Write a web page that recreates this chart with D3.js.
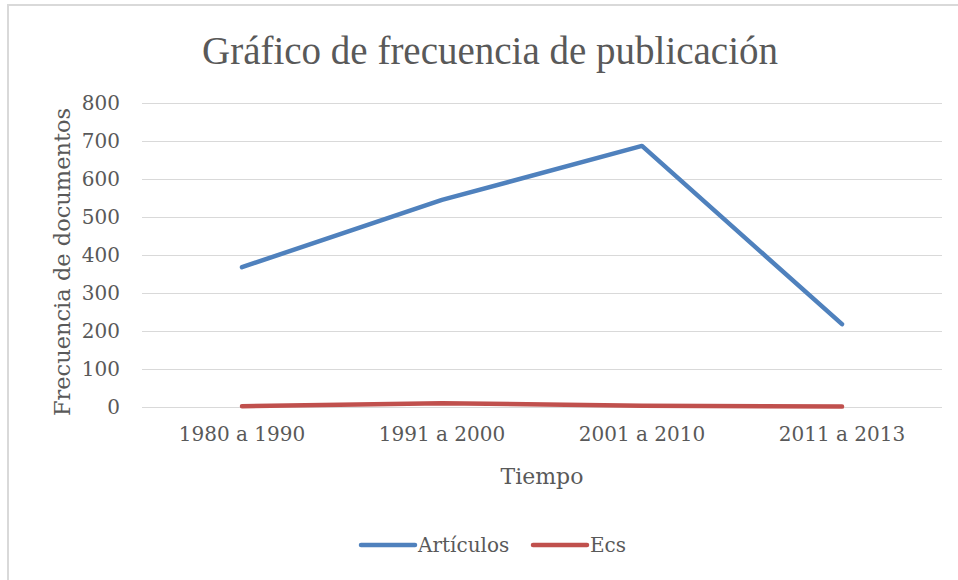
<!DOCTYPE html>
<meta charset="utf-8">
<style>
body { margin: 0; background: #fff; }
text { font-family: "DejaVu Serif", "Liberation Serif", serif; fill: #595959; }
.title { font-family: "Liberation Serif", serif; }
.grid line { stroke: #d9d9d9; stroke-width: 1.3; shape-rendering: crispEdges; }
.grid path { display: none; }
.axis path, .axis line { display: none; }
</style>
<body>
<script src="https://d3js.org/d3.v7.min.js"></script>
<script>

var categories = ["1980 a 1990", "1991 a 2000", "2001 a 2010", "2011 a 2013"];
var articulos = [368, 545, 687, 218];
var ecs = [2, 10, 3, 1];
var seriesNames = ["Artículos", "Ecs"];
var yTicks = [0, 100, 200, 300, 400, 500, 600, 700, 800];

var W = 958, H = 580;
var margin = {top: 103, right: 16, bottom: 173, left: 142},
    width = W - margin.left - margin.right,
    height = H - margin.top - margin.bottom;

var color = d3.scaleOrdinal().domain(seriesNames).range(["#4f81bd", "#c0504d"]);

var series = [
  {name: seriesNames[0], values: articulos},
  {name: seriesNames[1], values: ecs}
];

var svg = d3.select("body").append("svg")
    .attr("width", W)
    .attr("height", H);

// outer chart border (only top and left visible)
svg.append("path")
    .attr("d", "M8,580 V5 H958")
    .attr("fill", "none")
    .attr("stroke", "#d9d9d9")
    .attr("stroke-width", 2);

var g = svg.append("g")
    .attr("transform", "translate(" + margin.left + "," + margin.top + ")");

var x = d3.scaleBand()
    .domain(categories)
    .range([0, width]);

var y = d3.scaleLinear()
    .domain([0, 800])
    .range([height, 0]);

g.append("g")
    .attr("class", "grid")
    .call(d3.axisLeft(y).tickValues(yTicks).tickSize(-width).tickFormat(""));

g.append("g")
    .attr("class", "axis")
    .call(d3.axisLeft(y).tickValues(yTicks).tickSize(0).tickPadding(22))
  .selectAll("text")
    .style("font-size", "20px")
    .attr("fill", "#595959");

g.append("g")
    .attr("class", "axis")
    .attr("transform", "translate(0," + height + ")")
    .call(d3.axisBottom(x).tickSize(0).tickPadding(20))
  .selectAll("text")
    .style("font-size", "20px")
    .attr("fill", "#595959");

var line = d3.line()
    .x(function(d, i) { return x(categories[i]) + x.bandwidth() / 2; })
    .y(function(d) { return y(d); });

g.selectAll(".series")
    .data(series)
  .enter().append("path")
    .attr("class", "series")
    .attr("fill", "none")
    .attr("stroke", function(d) { return color(d.name); })
    .attr("stroke-width", 4.5)
    .attr("stroke-linecap", "round")
    .attr("stroke-linejoin", "round")
    .attr("d", function(d) { return line(d.values); });

// title
svg.append("text")
    .attr("class", "title")
    .attr("x", 490)
    .attr("y", 64)
    .attr("text-anchor", "middle")
    .style("font-size", "39px")
    .text("Gráfico de frecuencia de publicación");

// axis titles
svg.append("text")
    .attr("transform", "translate(70,262) rotate(-90)")
    .attr("text-anchor", "middle")
    .style("font-size", "22.5px")
    .text("Frecuencia de documentos");

svg.append("text")
    .attr("x", margin.left + width / 2)
    .attr("y", 484)
    .attr("text-anchor", "middle")
    .style("font-size", "22px")
    .text("Tiempo");

// legend
var legendX = [361, 533];
var legend = svg.selectAll(".legend")
    .data(seriesNames)
  .enter().append("g")
    .attr("class", "legend")
    .attr("transform", function(d, i) { return "translate(" + legendX[i] + ",545)"; });

legend.append("line")
    .attr("x1", 0)
    .attr("x2", 54)
    .attr("stroke", function(d) { return color(d); })
    .attr("stroke-width", 4.5)
    .attr("stroke-linecap", "round");

legend.append("text")
    .attr("x", 57)
    .attr("y", 7)
    .style("font-size", "20px")
    .text(function(d) { return d; });

</script>
